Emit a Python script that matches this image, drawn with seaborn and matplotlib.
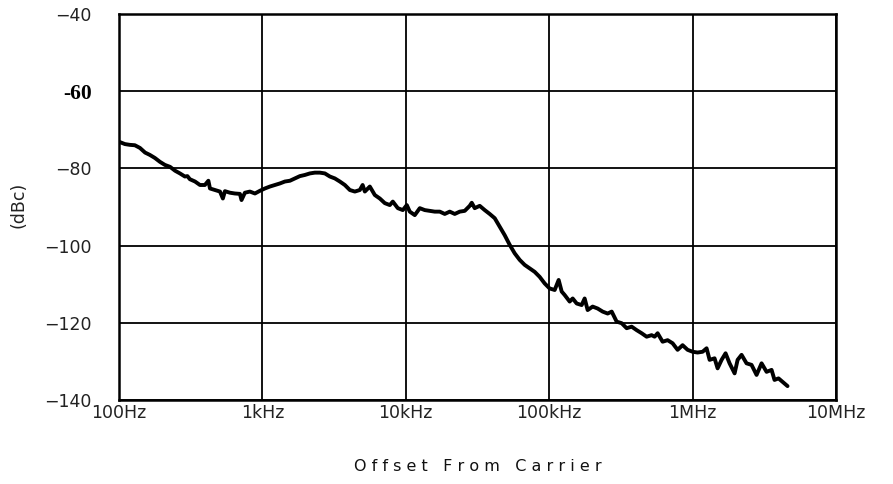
import numpy as np
import pandas as pd
import matplotlib
matplotlib.use("Agg")
import matplotlib.pyplot as plt
import seaborn as sns

# Single-sideband phase noise trace: offset frequency (Hz) and level (dBc)
offset_hz = [
    100, 110, 119, 129, 140, 152, 164, 178, 193, 209, 227, 246, 266, 288,
    300, 312, 339, 367, 397, 420, 431, 467, 506, 530, 548, 594, 643, 697, 715,
    755, 818, 887, 961, 1041, 1128, 1222, 1324, 1435, 1555, 1684, 1825, 1978,
    2143, 2322, 2516, 2727, 2954, 3201, 3468, 3758, 4072, 4412, 4780, 5000,
    5180, 5612, 6081, 6589, 7139, 7735, 8118, 8796, 9531, 10160, 10660,
    11550, 12520, 13560, 14700, 15920, 17250, 18690, 20250, 21940, 23780,
    25760, 27910, 28830, 30240, 32770, 35510, 38470, 41690, 45170, 48940,
    53030, 57460, 62260, 67460, 73090, 79200, 85810, 92980, 100700, 109200,
    116400, 122200, 128200, 138900, 145800, 155500, 168400, 176700, 185400,
    200900, 217700, 235900, 255600, 272800, 295400, 320100, 346800, 375800,
    407200, 441200, 478000, 517900, 543500, 570200, 617800, 669400, 725300,
    785900, 851600, 922700, 1000000, 1083000, 1174000, 1252000, 1314000,
    1423000, 1494000, 1593000, 1698000, 1811000, 1963000, 2060000, 2195000,
    2378000, 2577000, 2793000, 3027000, 3280000, 3554000, 3726000, 3974000,
    4239000, 4592000,
]
noise_dbc = [
    -73.1, -73.7, -73.9, -74.0, -74.7, -75.9, -76.5, -77.3, -78.3, -79.1,
    -79.6, -80.6, -81.3, -82.1, -82.0, -82.8, -83.4, -84.3, -84.3, -83.2,
    -85.2, -85.6, -86.0, -87.8, -85.9, -86.3, -86.5, -86.6, -88.2, -86.3,
    -86.0, -86.5, -85.8, -85.2, -84.7, -84.3, -83.9, -83.4, -83.2, -82.6,
    -82.0, -81.7, -81.3, -81.1, -81.1, -81.3, -82.1, -82.6, -83.4, -84.3,
    -85.6, -86.0, -85.6, -84.3, -86.0, -84.7, -86.9, -87.8, -89.0, -89.5,
    -88.6, -90.3, -90.8, -89.5, -91.2, -92.1, -90.3, -90.8, -91.0, -91.2,
    -91.2, -91.8, -91.2, -91.8, -91.2, -91.0, -89.7, -88.9, -90.3, -89.7,
    -90.8, -91.8, -92.9, -95.1, -97.3, -99.8, -102.0, -103.7, -105.0,
    -105.9, -106.8, -108.1, -109.8, -111.1, -111.5, -108.9, -111.9, -112.8,
    -114.5, -113.7, -115.0, -115.4, -113.7, -116.7, -115.8, -116.3, -117.1,
    -117.6, -117.1, -119.7, -120.1, -121.4, -121.0, -121.9, -122.7, -123.6,
    -123.2, -123.6, -122.7, -124.9, -124.5, -125.3, -127.0, -125.8, -127.0,
    -127.5, -127.7, -127.5, -126.6, -129.6, -129.2, -131.8, -129.6, -127.9,
    -130.5, -133.1, -129.6, -128.3, -130.5, -130.9, -133.5, -130.5, -132.7,
    -132.2, -134.8, -134.4, -135.3, -136.4,
]

x_ticks = [1e2, 1e3, 1e4, 1e5, 1e6, 1e7]
x_tick_labels = ["100Hz", "1kHz", "10kHz", "100kHz", "1MHz", "10MHz"]
y_ticks = [-40, -60, -80, -100, -120, -140]
y_tick_labels = ["\u221240", "-60", "\u221280", "\u2212100", "\u2212120", "\u2212140"]

df = pd.DataFrame({"offset": offset_hz, "level": noise_dbc})

sns.set_style("white")
plt.rcParams["font.family"] = ["DejaVu Sans"]

fig = plt.figure(figsize=(8.93, 4.84), dpi=100)
ax = fig.add_axes([119 / 893, 1 - 400 / 484, 717 / 893, 386 / 484])

sns.lineplot(data=df, x="offset", y="level", ax=ax, color="black",
             linewidth=2.8, estimator=None, sort=False)

ax.set_xscale("log")
ax.set_xlim(1e2, 1e7)
ax.set_ylim(-140, -40)

ax.set_xticks(x_ticks)
ax.set_xticklabels(x_tick_labels)
ax.xaxis.set_minor_locator(matplotlib.ticker.NullLocator())
ax.set_yticks(y_ticks)
ax.set_yticklabels(y_tick_labels)

ax.tick_params(axis="both", length=0, labelsize=12.5, colors="#222222")
ax.tick_params(axis="y", pad=19.5)
ax.tick_params(axis="x", pad=3)

# The -60 dBc reference line is called out in bold serif
for lbl in ax.get_yticklabels():
    if lbl.get_text() == "-60":
        lbl.set_fontfamily("Liberation Serif")
        lbl.set_fontweight("bold")
        lbl.set_fontsize(15.5)
        lbl.set_color("black")

ax.grid(True, which="major", color="black", linewidth=1.3)
for side in ax.spines.values():
    side.set_visible(True)
    side.set_color("black")
    side.set_linewidth(1.8)

ax.set_xlabel("O f f s e t   F r o m   C a r r i e r", fontsize=11.5,
              color="#111111")
ax.xaxis.set_label_coords(0.5, -0.153)
ax.set_ylabel("(dBc)", fontsize=12.5, color="#222222")
ax.yaxis.set_label_coords(-0.128, 0.505)

fig.savefig("out.png", dpi=100, facecolor="white")
